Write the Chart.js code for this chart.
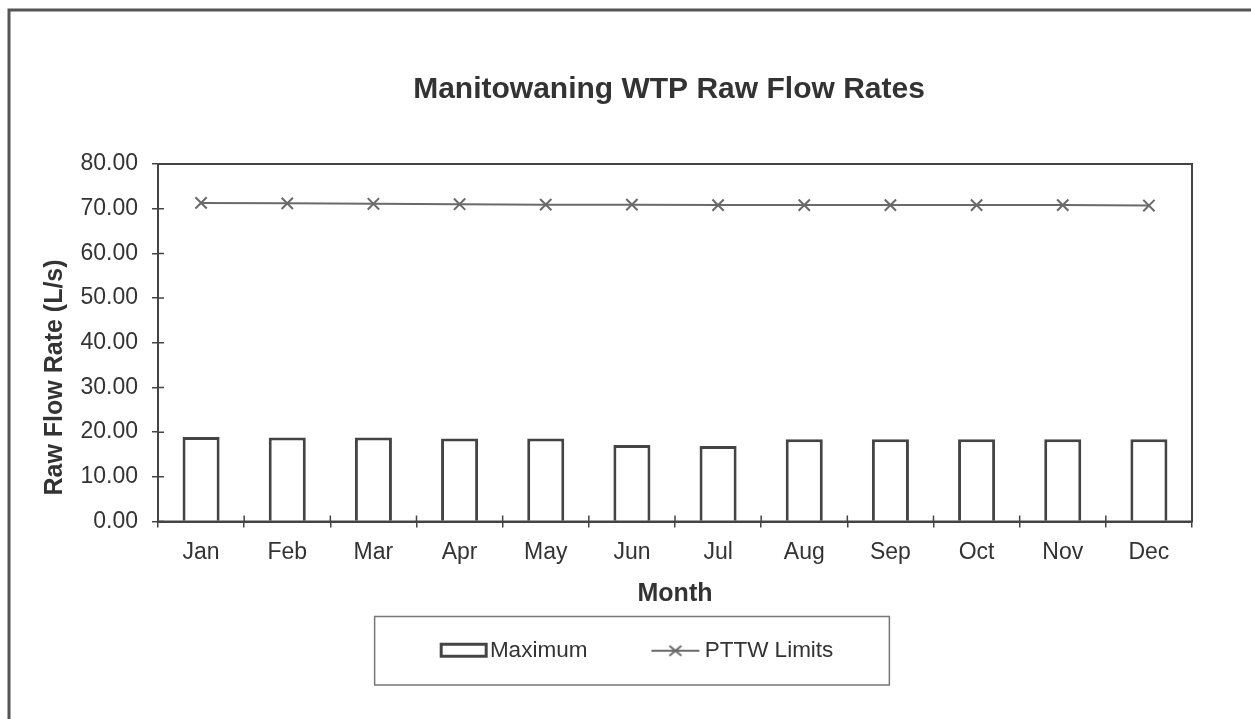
<!DOCTYPE html>
<html>
<head>
<meta charset="utf-8">
<script src="https://cdn.jsdelivr.net/npm/chart.js@4/dist/chart.umd.min.js"></script>
<style>
  html, body { margin: 0; padding: 0; background: #fff; }
  #wrap { position: absolute; left: 0; top: 0; width: 1251px; height: 719px; }
</style>
</head>
<body>
<div id="wrap"><canvas id="c"></canvas></div>
<script>
var months = ["Jan", "Feb", "Mar", "Apr", "May", "Jun", "Jul", "Aug", "Sep", "Oct", "Nov", "Dec"];
var maximum = [18.9, 18.8, 18.8, 18.6, 18.6, 17.1, 16.9, 18.4, 18.4, 18.4, 18.4, 18.4];
var pttwLimits = [71.3, 71.2, 71.1, 71.0, 70.9, 70.9, 70.8, 70.8, 70.8, 70.8, 70.8, 70.7];
var yTicks = [0, 10, 20, 30, 40, 50, 60, 70, 80];

var ink = '#444';
var lineInk = '#6a6a6a';
var txt = '#333';
var fam = 'Liberation Sans, Arial, sans-serif';

// legend symbols (canvas images used as point styles)
function barIcon() {
    var c = document.createElement('canvas');
    c.width = 60; c.height = 18;
    var g = c.getContext('2d');
    g.strokeStyle = ink; g.lineWidth = 3;
    g.strokeRect(12.5, 2.5, 45, 12);
    return c;
}
function lineIcon() {
    var c = document.createElement('canvas');
    c.width = 60; c.height = 18;
    var g = c.getContext('2d');
    g.strokeStyle = lineInk; g.lineWidth = 2;
    g.beginPath(); g.moveTo(8, 9); g.lineTo(56, 9); g.stroke();
    g.beginPath();
    g.moveTo(26, 4); g.lineTo(38, 14);
    g.moveTo(38, 4); g.lineTo(26, 14);
    g.stroke();
    return c;
}
var icons = [barIcon(), lineIcon()];

var framePlugin = {
    id: 'frame',
    afterLayout: function(chart) {
        // Excel-like placement: title and legend are not centred on the canvas
        var t = chart.titleBlock;
        if (t) { t.left += 67; t.right += 67; }
        var lg = chart.legend;
        if (lg) { lg.left += 34; lg.right += 34; }
    },
    beforeDraw: function(chart) {
        var ctx = chart.ctx;
        ctx.save();
        ctx.strokeStyle = '#555';
        ctx.lineWidth = 3;
        ctx.beginPath();
        ctx.moveTo(9, 719); ctx.lineTo(9, 10); ctx.lineTo(1251, 10);
        ctx.stroke();
        ctx.restore();
    },
    afterDraw: function(chart) {
        var ctx = chart.ctx, a = chart.chartArea;
        ctx.save();
        ctx.strokeStyle = ink;
        ctx.lineWidth = 2;
        ctx.strokeRect(a.left, a.top, a.right - a.left, a.bottom - a.top);
        // inner half of the crossing tick marks
        ctx.lineWidth = 1.5;
        var ys = chart.scales.y, xs = chart.scales.x;
        ctx.beginPath();
        yTicks.forEach(function(v) {
            var py = ys.getPixelForValue(v);
            ctx.moveTo(a.left, py); ctx.lineTo(a.left + 6, py);
        });
        for (var i = 0; i <= months.length; i++) {
            var px = xs.getPixelForValue(i - 0.5);
            ctx.moveTo(px, a.bottom); ctx.lineTo(px, a.bottom - 6);
        }
        ctx.stroke();
        // legend border
        var lg = chart.legend;
        if (lg && lg.legendHitBoxes.length) {
            var hb = lg.legendHitBoxes;
            var first = hb[0], last = hb[hb.length - 1];
            var l = first.left - 64, r = last.left + last.width + 56;
            ctx.strokeStyle = '#777';
            ctx.lineWidth = 1.5;
            ctx.strokeRect(l, first.top - 23, r - l, first.height + 46);
        }
        ctx.restore();
    }
};

new Chart(document.getElementById('c'), {
    type: 'bar',
    data: {
        labels: months,
        datasets: [{
            type: 'line',
            label: 'PTTW Limits',
            data: pttwLimits,
            borderColor: lineInk,
            borderWidth: 2,
            pointStyle: 'crossRot',
            pointRadius: 8,
            pointBorderWidth: 2,
            pointBorderColor: lineInk,
            fill: false,
            order: 1
        }, {
            label: 'Maximum',
            data: maximum,
            backgroundColor: '#fff',
            borderColor: ink,
            borderWidth: 3,
            barPercentage: 0.43,
            categoryPercentage: 1.0,
            order: 2
        }]
    },
    options: {
        responsive: true,
        maintainAspectRatio: false,
        animation: false,
        layout: { padding: { left: 12, right: 59, top: 0, bottom: 47 } },
        plugins: {
            title: {
                display: true,
                text: 'Manitowaning WTP Raw Flow Rates',
                color: txt,
                font: { family: fam, size: 30, weight: 'bold' },
                padding: { top: 72, bottom: 56 }
            },
            legend: {
                position: 'bottom',
                reverse: true,
                labels: {
                    color: txt,
                    font: { family: fam, size: 22.5 },
                    usePointStyle: true,
                    pointStyleWidth: 40,
                    padding: 66,
                    generateLabels: function(chart) {
                        return chart.data.datasets.map(function(ds, i) {
                            return {
                                text: ds.label,
                                pointStyle: ds.type === 'line' ? icons[1] : icons[0],
                                datasetIndex: i,
                                hidden: false,
                                fontColor: txt,
                                lineWidth: 0,
                                strokeStyle: 'transparent',
                                fillStyle: 'transparent'
                            };
                        });
                    }
                }
            },
            tooltip: { enabled: false }
        },
        scales: {
            x: {
                afterFit: function(s) { s.height = 52; },
                grid: { display: true, drawOnChartArea: false, offset: true, tickLength: 6, color: ink, lineWidth: 1.5 },
                border: { color: ink, width: 2 },
                ticks: { color: txt, font: { family: fam, size: 23 }, padding: 11 },
                title: {
                    display: true, text: 'Month', color: txt,
                    font: { family: fam, size: 25, weight: 'bold' },
                    padding: { top: 0, bottom: -36 }
                }
            },
            y: {
                min: 0, max: 80,
                afterFit: function(s) { s.width = 146; },
                afterBuildTicks: function(s) { s.ticks = yTicks.map(function(v) { return { value: v }; }); },
                grid: { display: true, drawOnChartArea: false, tickLength: 6, color: ink, lineWidth: 1.5 },
                border: { color: ink, width: 2 },
                ticks: {
                    color: txt,
                    font: { family: fam, size: 23 },
                    padding: 14,
                    callback: function(v) { return Number(v).toFixed(2); }
                },
                title: {
                    display: true,
                    text: 'Raw Flow Rate (L/s)\u00a0\u00a0\u00a0\u00a0\u00a0\u00a0\u00a0\u00a0\u00a0\u00a0',
                    color: txt,
                    font: { family: fam, size: 25, weight: 'bold' },
                    padding: { top: 28, bottom: 0 }
                }
            }
        }
    },
    plugins: [framePlugin]
});
</script>
</body>
</html>
